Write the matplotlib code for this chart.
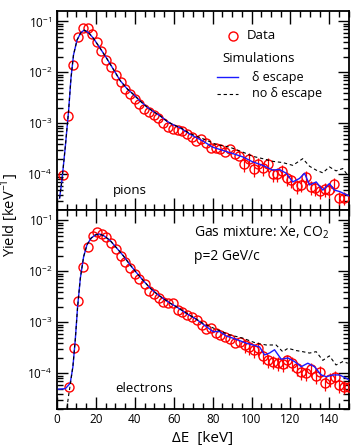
import matplotlib
matplotlib.use("Agg")
import matplotlib.pyplot as plt
import numpy as np
from matplotlib.ticker import LogLocator, MultipleLocator, NullFormatter

plt.rcParams["font.family"] = ["Open Sans", "DejaVu Sans"]
plt.rcParams["mathtext.fontset"] = "custom"
plt.rcParams["mathtext.rm"] = "Open Sans"

# pions: measured yield
pion_x = [3.3, 5.8, 8.0, 10.6, 13.2, 15.7, 18.1, 20.5, 22.8, 25.3, 27.7, 30.1, 32.7, 35.1,
          37.5, 39.9, 42.3, 44.7, 47.2, 49.7, 52.0, 54.6, 57.2, 59.6, 62.0, 64.5, 66.8, 69.3,
          71.7, 74.1, 76.5, 79.2, 81.7, 83.9, 86.5, 88.7, 91.3, 93.6, 96.2, 98.8, 101.0, 103.4,
          106.0, 108.5, 110.9, 113.3, 115.7, 118.1, 120.5, 123.1, 125.5, 127.9, 130.5, 132.7,
          135.2, 137.6, 140.0, 142.6, 145.0, 147.6]
pion_y = [9.5e-5, 1.37e-3, 0.0141, 0.0484, 0.0758, 0.074, 0.0564, 0.0387, 0.0264, 0.0173,
          0.0127, 0.00874, 0.0064, 0.00482, 0.00379, 0.00295, 0.00236, 0.00191, 0.00167,
          0.00146, 0.00126, 0.00102, 0.00086, 0.00077, 0.00074, 0.0007, 0.00062, 0.00054,
          0.00045, 0.0005, 0.00041, 0.00033, 0.00033, 0.00031, 0.00027, 0.00032, 0.00025,
          0.00023, 0.00016, 0.000204, 0.000128, 0.00016, 0.000131, 0.00016, 1e-4, 1.03e-4,
          1.16e-4, 8.6e-5, 7.6e-5, 5.9e-5, 6.3e-5, 8.8e-5, 5.6e-5, 5.4e-5, 4.7e-5, 5.1e-5,
          5e-5, 6.4e-5, 3.5e-5, 3.5e-5]

# pions: simulation with delta escape
pion_esc_x = [1.35, 2.55, 4.26, 5.97, 7.2, 8.5, 10.3, 12.3, 14.0, 16.2, 18.8, 22.2, 25.7,
              29.1, 32.5, 36.0, 39.3, 42.8, 46.2, 49.6, 53.1, 56.5, 59.9, 63.3, 68.1, 75.0,
              80.1, 85.2, 90.4, 95.5, 100.7, 105.8, 110.9, 114.3, 117.8, 121.2, 124.6, 127.2,
              129.8, 133.2, 136.6, 140.0, 142.6, 145.2, 148.6, 150.0]
pion_esc_y = [3.4e-5, 7.6e-5, 3.4e-4, 1.75e-3, 7.7e-3, 0.022, 0.043, 0.0605, 0.0675, 0.0605,
              0.0463, 0.0297, 0.0185, 0.0113, 0.0069, 0.0048, 0.0037, 0.00274, 0.0021, 0.0017,
              0.0014, 0.0011, 0.00093, 0.00082, 6.2e-4, 4.5e-4, 3.4e-4, 2.95e-4, 2.55e-4,
              2.2e-4, 1.75e-4, 1.5e-4, 1.21e-4, 1.25e-4, 1.05e-4, 7.1e-5, 8.3e-5, 1.05e-4,
              6.2e-5, 7.1e-5, 4.9e-5, 6.6e-5, 4.9e-5, 4.6e-5, 4.0e-5, 3.8e-5]

# pions: simulation without delta escape
pion_noesc_x = [1.35, 2.55, 4.26, 5.97, 7.2, 8.5, 10.3, 12.3, 14.0, 16.2, 18.8, 22.2, 25.7,
                29.1, 32.5, 36.0, 39.3, 42.8, 46.2, 49.6, 53.1, 56.5, 59.9, 63.3, 68.1, 75.0,
                81.8, 88.7, 95.5, 100.7, 105.8, 110.9, 116.1, 121.2, 126.3, 129.8, 133.2,
                136.6, 140.0, 143.4, 146.9, 148.6, 150.0]
pion_noesc_y = [3.4e-5, 7.6e-5, 3.4e-4, 1.75e-3, 7.7e-3, 0.022, 0.043, 0.0605, 0.0675,
                0.0605, 0.0463, 0.0297, 0.0185, 0.0113, 0.0069, 0.0048, 0.0037, 0.00274,
                0.0021, 0.0017, 0.0014, 0.0011, 0.00093, 0.00083, 6.4e-4, 5.0e-4, 3.86e-4,
                3.42e-4, 2.73e-4, 2.25e-4, 2.03e-4, 1.8e-4, 1.7e-4, 1.5e-4, 2.03e-4, 1.44e-4,
                1.21e-4, 1.07e-4, 1.4e-4, 1.17e-4, 1.3e-4, 1.05e-4, 1.0e-4]

# electrons: measured yield
elec_x = [6.3, 8.5, 10.8, 13.2, 15.7, 18.3, 20.7, 23.1, 25.3, 27.9, 30.3, 32.9, 35.2, 37.6,
          40.1, 42.4, 45.0, 47.4, 49.8, 52.4, 54.7, 57.3, 59.7, 62.1, 64.4, 66.9, 69.5, 71.9,
          74.3, 76.7, 79.3, 81.8, 84.0, 86.6, 89.0, 91.6, 94.0, 96.4, 98.8, 101.3, 103.5,
          106.1, 108.6, 111.1, 113.5, 115.9, 118.3, 120.7, 123.3, 125.6, 128.1, 130.6, 133.0,
          135.4, 137.8, 140.2, 142.8, 145.1, 147.7, 150.1]
elec_y = [5.5e-5, 3.2e-4, 2.63e-3, 0.012, 0.0305, 0.050, 0.060, 0.054, 0.048, 0.0365, 0.0275,
          0.0204, 0.0155, 0.0115, 0.0089, 0.0071, 0.0057, 0.0042, 0.0036, 0.003, 0.00255,
          0.00245, 0.00237, 0.00175, 0.00162, 0.0014, 0.0013, 0.00111, 0.00089, 0.00073,
          0.00077, 0.00061, 0.00057, 0.00052, 0.00047, 0.0004, 0.00042, 0.00036, 0.00033,
          0.00029, 0.00031, 0.00022, 0.00018, 0.00017, 0.00016, 0.00015, 0.00018, 0.00016,
          0.000126, 0.000108, 0.0001, 0.00012, 8.9e-5, 0.000108, 6.4e-5, 7.7e-5, 8.6e-5,
          5.9e-5, 5.5e-5, 5.3e-5]

# electrons: simulation with delta escape
elec_esc_x = [0.8, 4.3, 6.8, 8.2, 9.4, 10.6, 12.0, 13.7, 15.4, 17.5, 19.7, 21.9, 24.3, 27.4,
              30.8, 34.2, 37.6, 41.1, 44.5, 47.9, 51.4, 54.8, 58.2, 61.6, 66.4, 71.6, 76.7,
              80.1, 83.6, 87.0, 90.4, 93.8, 97.3, 100.7, 104.1, 106.7, 109.2, 111.8, 115.2,
              118.7, 122.1, 125.5, 128.9, 132.3, 135.8, 138.4, 141.8, 145.2, 148.6, 150.0]
elec_esc_y = [4.9e-5, 5.0e-5, 6.4e-5, 1.35e-4, 4.5e-4, 2.0e-3, 7.3e-3, 0.0194, 0.033, 0.0447,
              0.0518, 0.054, 0.0494, 0.040, 0.0284, 0.020, 0.0134, 0.0092, 0.0065, 0.0047,
              0.0036, 0.0029, 0.00237, 0.002, 0.0015, 0.00115, 0.00083, 0.00066, 0.00066,
              0.00054, 0.00049, 0.00044, 0.00039, 0.00036, 0.00033, 0.00023, 0.00025, 0.00029,
              0.00019, 0.0002, 0.00017, 0.000135, 0.000158, 0.000135, 9.3e-5, 8.6e-5, 9.3e-5,
              9.3e-5, 8e-5, 7.5e-5]

# electrons: simulation without delta escape
elec_noesc_x = [4.3, 5.9, 7.2, 8.2, 9.4, 10.6, 12.0, 13.7, 15.4, 17.5, 19.7, 21.9, 24.3, 27.4,
                30.8, 34.2, 37.6, 41.1, 44.5, 47.9, 51.4, 54.8, 58.2, 61.6, 68.1, 75.0, 81.8,
                88.7, 95.5, 102.4, 107.5, 112.6, 116.0, 118.7, 122.9, 126.3, 129.8, 133.2,
                136.6, 140.0, 143.4, 146.9, 149.5]
elec_noesc_y = [1.2e-5, 3.5e-5, 7.4e-5, 1.4e-4, 4.5e-4, 2.0e-3, 7.3e-3, 0.0194, 0.033, 0.0447,
                0.0518, 0.054, 0.0494, 0.040, 0.0284, 0.020, 0.0134, 0.0092, 0.0065, 0.0047,
                0.0036, 0.0029, 0.00237, 0.002, 0.0014, 0.00096, 0.00073, 0.00057, 0.00049,
                0.00039, 0.00036, 0.00036, 0.000266, 0.00031, 0.00028, 0.000266, 0.00025,
                0.000266, 0.00018, 0.00022, 0.000146, 0.00017, 0.000158]

REL_ERR = 0.3      # visible error bars in the tails
ERR_FROM = 95.0
BLUE = "#1a1aff"

fig = plt.figure(figsize=(3.56, 4.48), dpi=100)
ax_top = fig.add_axes([0.160, 0.5313, 0.820, 0.4441])
ax_bot = fig.add_axes([0.160, 0.0871, 0.820, 0.4442])


def draw_panel(ax, dx, dy, ex, ey, nx, ny):
    dx = np.array(dx)
    dy = np.array(dy)
    err = np.where(dx >= ERR_FROM, REL_ERR * dy, 0.0)
    ax.errorbar(dx, dy, yerr=err, fmt="none", ecolor="red", elinewidth=0.9, zorder=2)
    ax.plot(dx, dy, "o", mfc="none", mec="red", ms=6.5, mew=1.0, zorder=3)
    ax.plot(ex, ey, "-", color=BLUE, lw=1.0, zorder=4)
    ax.plot(nx, ny, "--", color="black", lw=0.8, dashes=(3, 2.5), zorder=4)

    ax.set_yscale("log")
    ax.set_xlim(0, 150)
    ax.set_ylim(2e-5, 0.16)
    ax.xaxis.set_major_locator(MultipleLocator(20))
    ax.xaxis.set_minor_locator(MultipleLocator(5))
    ax.yaxis.set_major_locator(LogLocator(base=10, numticks=10))
    ax.yaxis.set_minor_locator(LogLocator(base=10, subs=np.arange(2, 10), numticks=10))
    ax.yaxis.set_minor_formatter(NullFormatter())
    ax.tick_params(which="both", direction="in", top=True, right=True, labelsize=8.5,
                   width=1.0)
    ax.tick_params(which="major", length=8)
    ax.tick_params(which="minor", length=4)
    ax.tick_params(axis="x", which="major", length=9, pad=3)
    for s in ax.spines.values():
        s.set_linewidth(1.3)


draw_panel(ax_top, pion_x, pion_y, pion_esc_x, pion_esc_y, pion_noesc_x, pion_noesc_y)
draw_panel(ax_bot, elec_x, elec_y, elec_esc_x, elec_esc_y, elec_noesc_x, elec_noesc_y)
ax_top.tick_params(axis="x", labelbottom=False)

# legend in top panel, placed by hand like the original
ax_top.plot([90.4], [0.052], "o", mfc="none", mec="red", ms=6.5, mew=1.0)
ax_top.text(97.3, 0.052, "Data", fontsize=9.5, va="center", ha="left")
ax_top.text(103.7, 0.0191, "Simulations", fontsize=9.5, va="center", ha="center")
ax_top.plot([82.2, 93.0], [0.0081, 0.0081], "-", color=BLUE, lw=1.0)
ax_top.text(100.3, 0.0081, "\u03b4 escape", fontsize=9, va="center", ha="left")
ax_top.plot([82.2, 93.0], [0.00377, 0.00377], "--", color="black", lw=0.8, dashes=(3, 2.5))
ax_top.text(100.3, 0.00377, "no \u03b4 escape", fontsize=9, va="center", ha="left")

ax_top.text(37.7, 4.9e-5, "pions", fontsize=9.5, ha="center", va="center")
ax_bot.text(44.5, 5.1e-5, "electrons", fontsize=9.5, ha="center", va="center")
ax_bot.text(70.5, 0.0567, "Gas mixture: Xe, CO$_2$", fontsize=10, ha="left", va="center")
ax_bot.text(70.5, 0.0195, "p=2 GeV/c", fontsize=10, ha="left", va="center")

fig.text(0.028, 0.52, "Yield [keV$^{-1}$]", rotation=90, fontsize=10.5,
         ha="center", va="center")
fig.text(0.57, 0.022, "\u0394E  [keV]", fontsize=11, ha="center", va="center")

fig.savefig("out.png", dpi=100)
